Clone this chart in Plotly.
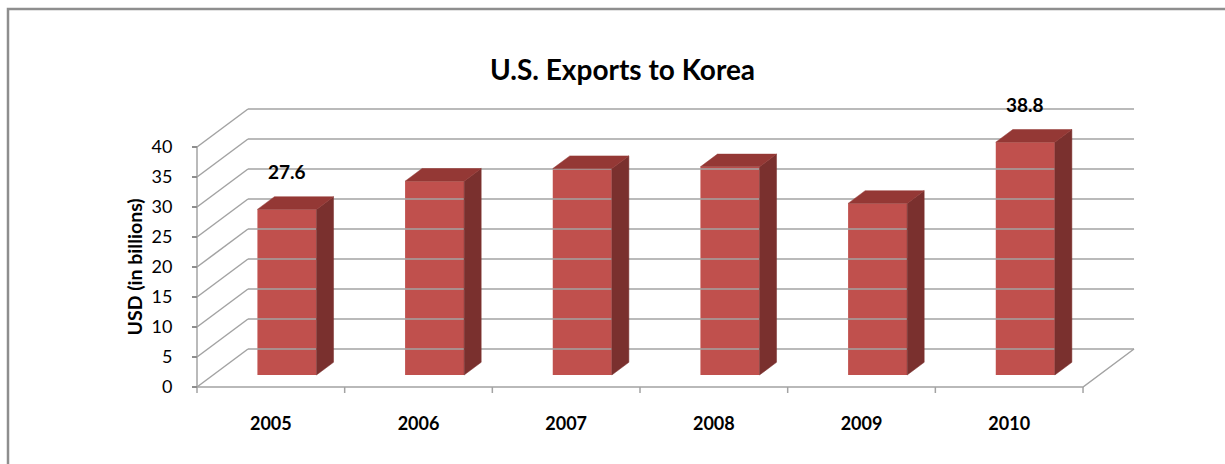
import plotly.graph_objects as go

# --- data -------------------------------------------------------------
years = ["2005", "2006", "2007", "2008", "2009", "2010"]
exports = [27.6, 32.3, 34.4, 34.7, 28.6, 38.8]   # USD billions
labelled = {"2005": 27.6, "2010": 38.8}          # values printed above bars
y_ticks = [0, 5, 10, 15, 20, 25, 30, 35, 40]

# --- pseudo-3D geometry (data units) ----------------------------------
W, H = 1225, 464
PX_X = 147.67          # pixels per category
PX_Y = 6.0             # pixels per billion
ORIGIN = (197, 387)    # pixel position of the front-left floor corner
DEPTH_X = 51 / PX_X    # wall depth along x
DEPTH_Y = 38 / PX_Y    # wall depth along y
F_FRONT, F_BACK = 0.316, 0.65   # bar depth span as fraction of wall depth
BAR_W = 0.40
Y_MAX = 40

FRONT = "#C0504D"
TOP = "#943835"
SIDE = "#7A302E"
GRID = "#A3A3A3"
FONT = "Lato"

x_range = [-ORIGIN[0] / PX_X, (W - ORIGIN[0]) / PX_X]
y_range = [-(H - ORIGIN[1]) / PX_Y, ORIGIN[1] / PX_Y]

fig = go.Figure()


def seg_trace(xs, ys, color=GRID, width=1.5):
    fig.add_trace(go.Scatter(x=xs, y=ys, mode="lines",
                             line=dict(color=color, width=width),
                             hoverinfo="skip", showlegend=False))


n = len(years)

# back wall gridlines
gx, gy = [], []
for v in y_ticks:
    gx += [DEPTH_X, n + DEPTH_X, None]
    gy += [DEPTH_Y + v, DEPTH_Y + v, None]
seg_trace(gx, gy)

# side wall diagonals
dx_, dy_ = [], []
for v in y_ticks:
    dx_ += [0, DEPTH_X, None]
    dy_ += [v, DEPTH_Y + v, None]
seg_trace(dx_, dy_)

# front vertical edge, floor front edge and floor right edge
seg_trace([0, 0, None, 0, n, DEPTH_X + n],
          [0, Y_MAX, None, 0, 0, DEPTH_Y])

# category boundary ticks
tx, ty = [], []
for i in range(n + 1):
    tx += [i, i, None]
    ty += [0, -1.0, None]
seg_trace(tx, ty)

# bars: front faces as a bar trace, sides and tops as filled polygons
shift_x = F_FRONT * DEPTH_X
base_y = F_FRONT * DEPTH_Y
ddx = (F_BACK - F_FRONT) * DEPTH_X
ddy = (F_BACK - F_FRONT) * DEPTH_Y
centers = [i + 0.5 + shift_x for i in range(n)]

for c, v in zip(centers, exports):
    xl, xr = c - BAR_W / 2, c + BAR_W / 2
    yb, yt = base_y, base_y + v
    # right side face
    fig.add_trace(go.Scatter(
        x=[xr, xr + ddx, xr + ddx, xr, xr],
        y=[yb, yb + ddy, yt + ddy, yt, yb],
        fill="toself", fillcolor=SIDE, mode="lines",
        line=dict(color=SIDE, width=0.5),
        hoverinfo="skip", showlegend=False))
    # top face
    fig.add_trace(go.Scatter(
        x=[xl, xl + ddx, xr + ddx, xr, xl],
        y=[yt, yt + ddy, yt + ddy, yt, yt],
        fill="toself", fillcolor=TOP, mode="lines",
        line=dict(color=TOP, width=0.5),
        hoverinfo="skip", showlegend=False))

fig.add_trace(go.Bar(
    x=centers, y=exports, base=base_y, width=BAR_W,
    marker=dict(color=FRONT, line=dict(width=0)),
    showlegend=False, hovertemplate="%{y}<extra></extra>"))

# value labels
for yr, val in labelled.items():
    i = years.index(yr)
    fig.add_annotation(x=centers[i], y=base_y + val, text=f"<b>{val}</b>",
                       showarrow=False, yshift=38,
                       font=dict(family=FONT, size=19, color="#000"))

# chart title and y-axis title
fig.add_annotation(x=0.508, y=1 - 50 / H, xref="paper", yref="paper",
                   text="<b>U.S. Exports to Korea</b>", showarrow=False,
                   font=dict(family=FONT, size=28, color="#000"))
fig.add_annotation(x=120 / W, y=Y_MAX / 2, xref="paper", yref="y",
                   text="<b>USD (in billions)</b>", textangle=-90,
                   showarrow=False,
                   font=dict(family=FONT, size=19.5, color="#000"))

# chart frame
fig.add_shape(type="rect", xref="paper", yref="paper",
              x0=8 / W, x1=1.05, y0=-0.05, y1=1 - 9 / H,
              line=dict(color="#8E8E8E", width=2.5))

fig.update_layout(
    width=W, height=H,
    margin=dict(l=0, r=0, t=0, b=0, pad=0),
    paper_bgcolor="white", plot_bgcolor="white",
    barmode="overlay",
    xaxis=dict(range=x_range, domain=[0, 1], anchor="free",
               position=(H - ORIGIN[1]) / H,
               tickvals=[i + 0.5 for i in range(n)],
               ticktext=[f"<b>{y}</b>" for y in years],
               ticks="", showgrid=False, zeroline=False, showline=False,
               ticklabelstandoff=24,
               tickfont=dict(family=FONT, size=18, color="#000")),
    yaxis=dict(range=y_range, domain=[0, 1], anchor="free",
               position=ORIGIN[0] / W,
               tickvals=y_ticks, ticks="outside", ticklen=5,
               tickcolor="#8E8E8E", tickwidth=1.5,
               showgrid=False, zeroline=False, showline=False,
               ticklabelstandoff=16,
               tickfont=dict(family=FONT, size=18, color="#000")),
)

fig.write_html("out.html")
